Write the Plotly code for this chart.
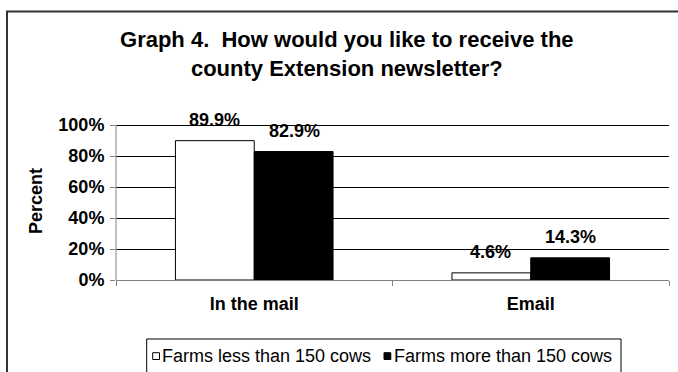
import plotly.graph_objects as go

# Survey responses (percent of farms)
categories = ["In the mail", "Email"]
series_names = ["Farms less than 150 cows", "Farms more than 150 cows"]
small_farms = [89.9, 4.6]
large_farms = [82.9, 14.3]
y_ticks = [0, 20, 40, 60, 80, 100]
y_tick_labels = [f"{v}%" for v in y_ticks]

title_text = ("Graph 4.\u00a0 How would you like to receive the<br>"
              "county Extension newsletter?")

W, H = 678, 372
# plot area: 0% sits at row 280, 100% at row 125; a few spare pixels above
# 100% keep its gridline from being clipped at the edge
M_L, M_R, M_T, M_B = 116, 9, 122, 92
PW, PH = W - M_L - M_R, H - M_T - M_B
Y_TOP = 100 * PH / (PH - 3)

FONT = "Arial, 'Liberation Sans', sans-serif"


def xp(px):
    """Pixel column -> paper x."""
    return (px - M_L) / PW


def yp(py):
    """Pixel row -> paper y."""
    return (H - M_B - py) / PH


fig = go.Figure()
fig.add_trace(go.Bar(
    x=categories, y=small_farms, name=series_names[0],
    marker=dict(color="white", line=dict(color="black", width=1)),
    showlegend=False,
))
fig.add_trace(go.Bar(
    x=categories, y=large_farms, name=series_names[1],
    marker=dict(color="black", line=dict(color="black", width=1)),
    showlegend=False,
))

# value labels above each bar
annotations = []
for vals, shift in ((small_farms, -40), (large_farms, 40)):
    for cat, v in zip(categories, vals):
        annotations.append(dict(
            x=cat, y=v, xref="x", yref="y", text=f"{v}%",
            showarrow=False, xanchor="center", yanchor="bottom",
            xshift=shift, yshift=9,
            font=dict(family=FONT, size=18, color="black", weight="bold"),
        ))

# legend
legend_items = [
    (series_names[0], "white", 152.7, 160),
    (series_names[1], "black", 384, 392),
]
shapes = [
    # outer chart frame
    dict(type="rect", xref="paper", yref="paper",
         x0=xp(7), x1=xp(720), y0=yp(11.5), y1=yp(420),
         line=dict(color="#333333", width=2), fillcolor="rgba(0,0,0,0)"),
    # legend box
    dict(type="rect", xref="paper", yref="paper",
         x0=xp(146.7), x1=xp(621), y0=yp(339), y1=yp(390),
         line=dict(color="black", width=1), fillcolor="white"),
]
for name, color, sx, tx in legend_items:
    shapes.append(dict(type="rect", xref="paper", yref="paper",
                       x0=xp(sx), x1=xp(sx + 6.8), y0=yp(352.7), y1=yp(359.5),
                       line=dict(color="black", width=1), fillcolor=color))
    annotations.append(dict(
        x=xp(tx), y=yp(355.5), xref="paper", yref="paper", text=name,
        showarrow=False, xanchor="left", yanchor="middle",
        font=dict(family=FONT, size=18, color="black"),
    ))

fig.update_layout(
    width=W, height=H,
    margin=dict(l=M_L, r=M_R, t=M_T, b=M_B, pad=0),
    paper_bgcolor="white", plot_bgcolor="white",
    barmode="group", bargap=0.43, bargroupgap=0,
    title=dict(
        text=title_text, xref="container", yref="container",
        x=346.8 / W, xanchor="center", y=1 - 47 / H, yanchor="top",
        font=dict(family=FONT, size=22, color="black", weight="bold"),
    ),
    xaxis=dict(
        showline=True, linecolor="#808080", linewidth=1,
        ticks="outside", tickson="boundaries", ticklen=5, tickcolor="#808080",
        ticklabelstandoff=7,
        tickfont=dict(family=FONT, size=18, color="black", weight="bold"),
        showgrid=False,
    ),
    yaxis=dict(
        range=[0, Y_TOP], tickvals=y_ticks, ticktext=y_tick_labels,
        showline=False,
        ticks="outside", ticklen=5, tickcolor="#808080",
        ticklabelstandoff=2,
        showgrid=True, gridcolor="black", gridwidth=1, zeroline=False,
        tickfont=dict(family=FONT, size=18, color="black", weight="bold"),
        title=dict(text="Percent", standoff=11,
                   font=dict(family=FONT, size=18, color="black", weight="bold")),
    ),
    shapes=shapes + [
        # value axis line, running from 0% up to 100%
        dict(type="line", xref="paper", yref="y", x0=0, x1=0, y0=0, y1=100,
             line=dict(color="#808080", width=1)),
    ],
    annotations=annotations,
    showlegend=False,
)

fig.write_html("out.html", config={"displayModeBar": False})
